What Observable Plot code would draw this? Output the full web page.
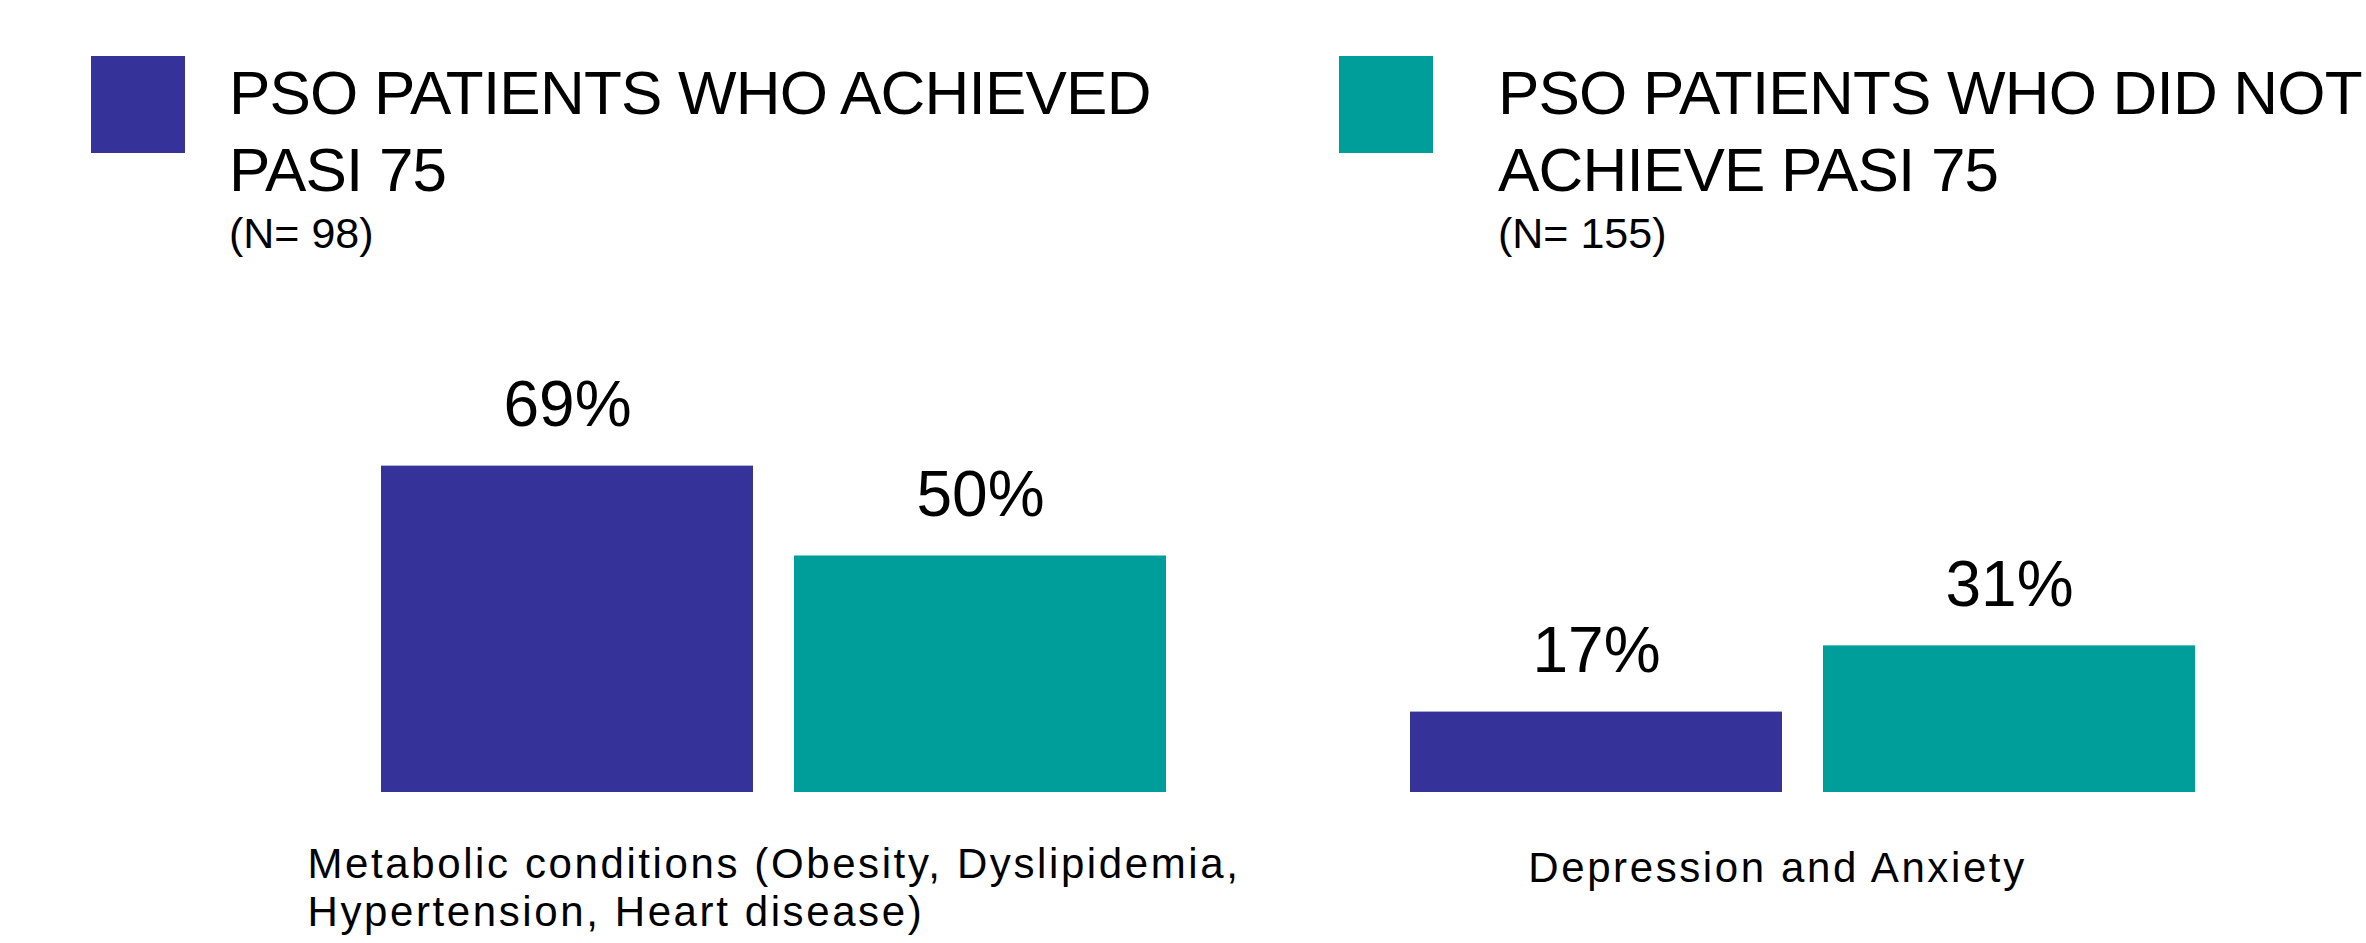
<!DOCTYPE html>
<html>
<head>
<meta charset="utf-8">
<script src="https://cdn.jsdelivr.net/npm/d3@7"></script>
<script src="https://cdn.jsdelivr.net/npm/@observablehq/plot@0.6"></script>
<style>
  html, body { margin: 0; padding: 0; background: #fff; }
  body { width: 2366px; height: 943px; overflow: hidden; font-family: "Liberation Sans", Arial, sans-serif; color: #000; }
  #legend { position: relative; width: 2366px; height: 270px; }
  .sw { position: absolute; top: 56px; width: 94px; height: 97px; }
  .ttl { position: absolute; top: 54px; font-size: 62px; line-height: 77px; letter-spacing: -0.8px; white-space: nowrap; }
  .nn { position: absolute; top: 211.6px; font-size: 43px; line-height: 43px; white-space: nowrap; }
  #chart svg { display: block; }
</style>
</head>
<body>
<div id="legend"></div>
<div id="chart"></div>
<script>
const categories = ["Metabolic conditions (Obesity, Dyslipidemia,\nHypertension, Heart disease)", "Depression and Anxiety"];
const seriesNames = ["PSO PATIENTS WHO ACHIEVED PASI 75", "PSO PATIENTS WHO DID NOT ACHIEVE PASI 75"];
const legendLines = [["PSO PATIENTS WHO ACHIEVED", "PASI 75"], ["PSO PATIENTS WHO DID NOT", "ACHIEVE PASI 75"]];
const seriesN = [98, 155];
const achievedValues = [69, 17];
const notAchievedValues = [50, 31];
const colors = ["#353399", "#009e9b"];

// Legend (HTML above the SVG)
const legend = document.getElementById("legend");
const swatchLeft = [91, 1339];
const textLeft = [229, 1498];
seriesNames.forEach((s, i) => {
  const sw = document.createElement("div");
  sw.className = "sw"; sw.style.left = swatchLeft[i] + "px"; sw.style.background = colors[i];
  legend.appendChild(sw);
  const t = document.createElement("div");
  t.className = "ttl"; t.style.left = textLeft[i] + "px";
  t.innerHTML = legendLines[i].join("<br>");
  legend.appendChild(t);
  const n = document.createElement("div");
  n.className = "nn"; n.style.left = textLeft[i] + "px";
  n.textContent = `(N= ${seriesN[i]})`;
  legend.appendChild(n);
});

const data = [];
categories.forEach((c, i) => {
  data.push({category: c, series: seriesNames[0], value: achievedValues[i]});
  data.push({category: c, series: seriesNames[1], value: notAchievedValues[i]});
});

const chart = Plot.plot({
  width: 2366,
  height: 673,
  marginLeft: 380,
  marginRight: 169,
  marginTop: 49,
  marginBottom: 151,
  style: {fontFamily: "'Liberation Sans', Arial, sans-serif", background: "white", color: "black"},
  fx: {domain: categories, paddingInner: 0.2357, paddingOuter: 0, axis: null},
  x: {domain: seriesNames, paddingInner: 0.099, paddingOuter: 0, axis: null},
  y: {domain: [0, 100], axis: null},
  color: {domain: seriesNames, range: colors},
  marks: [
    Plot.barY(data, {fx: "category", x: "series", y: "value", fill: "series"}),
    Plot.text(data, {fx: "category", x: "series", y: "value", text: d => `${d.value}%`, lineAnchor: "bottom", dy: -40, fontSize: 64, fill: "black"}),
    Plot.text([categories[0]], {fx: d => d, text: d => d, frameAnchor: "bottom-left", textAnchor: "start", lineAnchor: "top", lineHeight: 1.143, dx: -74, dy: 51, fontSize: 42, fill: "black"}),
    Plot.text([categories[1]], {fx: d => d, text: d => d, frameAnchor: "bottom", textAnchor: "middle", lineAnchor: "top", dx: -26, dy: 60, fontSize: 42, fill: "black"})
  ]
});
// widen the category labels' tracking to match the reference typeface
const textGroups = chart.querySelectorAll('g[aria-label="text"]');
textGroups.forEach((g, i) => { if (i > 0) g.setAttribute("letter-spacing", "2.6px"); });
document.getElementById("chart").appendChild(chart);
</script>
</body>
</html>
